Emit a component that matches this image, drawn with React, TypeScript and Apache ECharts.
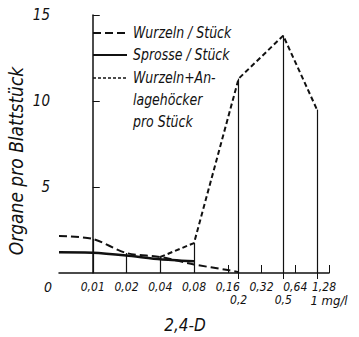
import React, { useEffect, useRef } from 'react';
import * as echarts from 'echarts';

// concentrations of 2,4-D (mg/l); the axis is doubling-spaced (log2), "0" placed one step left of 0.01
const tickConc = [0, 0.01, 0.02, 0.04, 0.08, 0.16, 0.32, 0.64, 1.28];
const tickLabels = ['0', '0,01', '0,02', '0,04', '0,08', '0,16', '0,32', '0,64', '1,28'];
const roundConc = [0.2, 0.5, 1];
const roundLabels = ['0,2', '0,5', '1 mg/l'];

const seriesNames = ['Wurzeln / Stück', 'Sprosse / Stück', 'Wurzeln+An-\nlagehöcker\npro Stück'];

const wurzelnConc = [0, 0.01, 0.02, 0.04, 0.08, 0.16, 0.2];
const wurzelnVal = [2.15, 1.98, 1.16, 0.93, 0.5, 0.17, 0.05];
const sprosseConc = [0, 0.01, 0.02, 0.04, 0.08];
const sprosseVal = [1.2, 1.18, 1.02, 0.8, 0.68];
const anlageConc = [0.04, 0.08, 0.2, 0.5, 1];
const anlageVal = [0.93, 1.74, 11.3, 13.8, 9.5];

const dropConc = [0.01, 0.02, 0.04, 0.08, 0.2, 0.5, 1];
const yTicks = [5, 10, 15];

const pos = (c: number) => (c === 0 ? -1 : Math.log2(c / 0.01));

const FONT = '"DejaVu Sans Condensed", sans-serif';
const INK = '#111';

export default function App() {
  const ref = useRef<HTMLDivElement>(null);
  useEffect(() => {
    if (!ref.current) return;
    const chart = echarts.init(ref.current, undefined, { renderer: 'svg' });

    const toData = (cs: number[], vs: number[]) => cs.map((c, i) => [pos(c), vs[i]]);
    const all = [
      [wurzelnConc, wurzelnVal],
      [sprosseConc, sprosseVal],
      [anlageConc, anlageVal],
    ];
    const dropData = dropConc.map((c) => {
      let h = 0;
      all.forEach(([cs, vs]) => {
        const i = cs.indexOf(c);
        if (i >= 0) h = Math.max(h, vs[i]);
      });
      return [{ coord: [pos(c), 0] }, { coord: [pos(c), h] }];
    });

    const tickPos = tickConc.map(pos);
    const roundPos = roundConc.map(pos);
    const labelFor = (v: number, ps: number[], ls: string[]) => {
      const i = ps.findIndex((p) => Math.abs(p - v) < 1e-6);
      return i >= 0 ? ls[i] : '';
    };
    const lastTick = tickPos[tickPos.length - 1];

    const legendY = [33, 55, 78];
    const legendDash: any[] = [[8, 4], 'solid', [3, 2]];
    const legendWidth = [2, 2.2, 1.5];
    const graphics: any[] = [];
    seriesNames.forEach((n, i) => {
      graphics.push({
        type: 'line',
        shape: { x1: 93, y1: legendY[i], x2: 127, y2: legendY[i] },
        style: { stroke: INK, lineWidth: legendWidth[i], lineDash: legendDash[i] === 'solid' ? null : legendDash[i] },
      });
      graphics.push({
        type: 'text',
        x: 133,
        y: legendY[i] - 11,
        scaleX: 0.87,
        style: {
          text: n,
          fill: INK,
          font: `italic 16px ${FONT}`,
          lineHeight: 22,
          textVerticalAlign: 'top',
        },
      });
    });
    graphics.push({
      type: 'text',
      x: 16,
      y: 161,
      rotation: Math.PI / 2,
      style: {
        text: 'Organe pro Blattstück',
        fill: INK,
        font: `italic 19px ${FONT}`,
        align: 'center',
        verticalAlign: 'middle',
      },
    });
    graphics.push({
      type: 'text',
      x: 185,
      y: 325,
      style: {
        text: '2,4-D',
        fill: INK,
        font: `italic 17px ${FONT}`,
        align: 'center',
        verticalAlign: 'middle',
      },
    });

    const baseLabel = {
      color: INK,
      fontFamily: FONT,
      fontStyle: 'italic',
      fontSize: 12,
      lineHeight: 12,
    };
    const hiddenAxis = {
      type: 'value',
      position: 'bottom',
      min: -1,
      max: 7,
      interval: 1,
      splitLine: { show: false },
      axisLine: { show: false },
    };

    chart.setOption({
      animation: false,
      backgroundColor: '#fff',
      grid: { left: 59, right: 30, top: 15, bottom: 64 },
      xAxis: [
        {
          type: 'value',
          position: 'bottom',
          min: -1,
          max: 7,
          interval: 1,
          splitLine: { show: false },
          axisLine: { show: true, lineStyle: { color: INK, width: 1.5 } },
          axisTick: { show: true, inside: true, length: 8, customValues: [4, 5, 6, 7], lineStyle: { color: INK, width: 1 } },
          axisLabel: {
            ...baseLabel,
            customValues: tickPos,
            showMinLabel: true,
            showMaxLabel: true,
            margin: 8,
            formatter: (v: number) => {
              const s = labelFor(v, tickPos, tickLabels);
              if (v === -1) return '{z|' + s + '}';
              if (v === lastTick) return '{r|' + s + '}';
              return s;
            },
            rich: {
              z: { ...baseLabel, padding: [0, 22, 0, 0], fontSize: 14 },
              r: { ...baseLabel, padding: [0, 10, 0, 0] },
            },
          },
        },
        {
          ...hiddenAxis,
          axisTick: { show: true, inside: false, length: 6, customValues: roundPos, lineStyle: { color: INK, width: 1 } },
          axisLabel: {
            ...baseLabel,
            customValues: roundPos.slice(0, 2),
            showMinLabel: true,
            showMaxLabel: true,
            margin: 21,
            formatter: (v: number) => labelFor(v, roundPos, roundLabels),
          },
        },
        {
          ...hiddenAxis,
          axisTick: { show: false },
          axisLabel: {
            ...baseLabel,
            customValues: roundPos.slice(2),
            showMinLabel: true,
            showMaxLabel: true,
            margin: 21,
            formatter: (v: number) => '{u|' + labelFor(v, roundPos, roundLabels) + '}',
            rich: { u: { ...baseLabel, fontSize: 13, padding: [0, 0, 0, 24] } },
          },
        },
      ],
      yAxis: {
        type: 'value',
        min: 0,
        max: 15,
        interval: 5,
        splitLine: { show: false },
        axisLine: { show: true, lineStyle: { color: INK, width: 1.5 } },
        axisTick: { show: true, inside: true, length: 7, customValues: yTicks, lineStyle: { color: INK } },
        axisLabel: {
          customValues: yTicks,
          margin: 9,
          color: INK,
          fontFamily: FONT,
          fontStyle: 'italic',
          fontSize: 15,
        },
      },
      series: [
        {
          name: seriesNames[0],
          type: 'line',
          data: toData(wurzelnConc, wurzelnVal),
          smooth: 0.3,
          symbol: 'none',
          lineStyle: { color: INK, width: 2, type: [8, 4] },
          z: 3,
        },
        {
          name: seriesNames[1],
          type: 'line',
          data: toData(sprosseConc, sprosseVal),
          smooth: 0.2,
          symbol: 'none',
          lineStyle: { color: INK, width: 2.5 },
          z: 3,
        },
        {
          name: seriesNames[2],
          type: 'line',
          data: toData(anlageConc, anlageVal),
          symbol: 'none',
          lineStyle: { color: INK, width: 2, type: [5, 3] },
          z: 3,
          markLine: {
            silent: true,
            symbol: 'none',
            label: { show: false },
            lineStyle: { color: INK, width: 1.2, type: 'solid' },
            data: dropData,
          },
        },
      ],
      graphic: graphics,
    });
    return () => chart.dispose();
  }, []);
  return <div ref={ref} style={{ position: 'fixed', left: 0, top: 0, width: 359, height: 337, background: '#fff' }} />;
}
